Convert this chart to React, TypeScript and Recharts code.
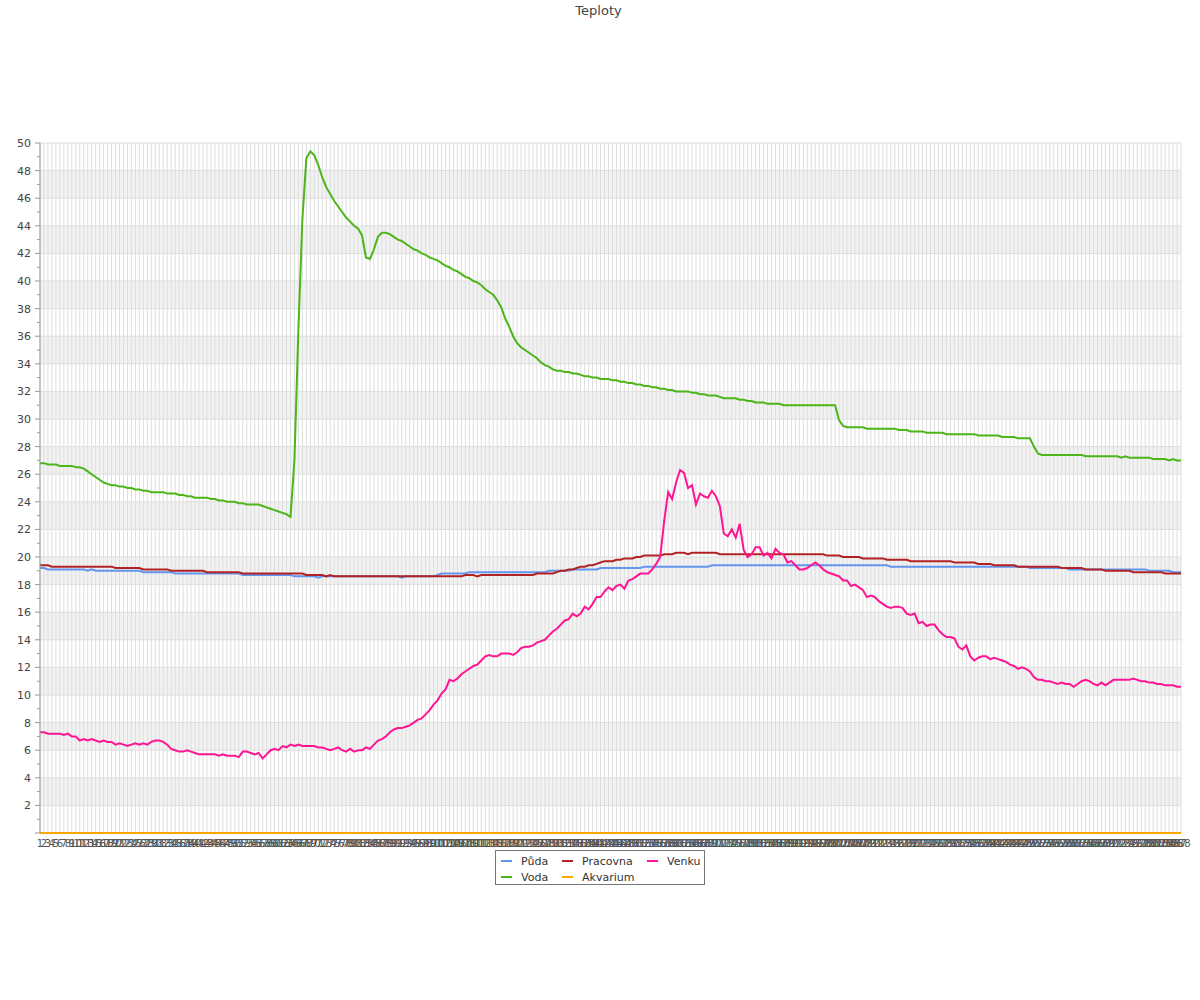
import React from 'react'
import { LineChart, Line, XAxis, YAxis, CartesianGrid } from 'recharts'

// one reading every 5 minutes, 288 per day
const labels = Array.from({ length: 288 }, (_, i) => String(i + 1))

const puda = [
  19.2, 19.2, 19.1, 19.1, 19.1, 19.1, 19.1, 19.1, 19.1, 19.1, 19.1, 19.1,
  19.0, 19.1, 19.0, 19.0, 19.0, 19.0, 19.0, 19.0, 19.0, 19.0, 19.0, 19.0,
  19.0, 19.0, 18.9, 18.9, 18.9, 18.9, 18.9, 18.9, 18.9, 18.9, 18.8, 18.8,
  18.8, 18.8, 18.8, 18.8, 18.8, 18.8, 18.8, 18.8, 18.8, 18.8, 18.8, 18.8,
  18.8, 18.8, 18.8, 18.7, 18.7, 18.7, 18.7, 18.7, 18.7, 18.7, 18.7, 18.7,
  18.7, 18.7, 18.7, 18.7, 18.6, 18.6, 18.6, 18.6, 18.6, 18.6, 18.5, 18.6,
  18.6, 18.6, 18.6, 18.6, 18.6, 18.6, 18.6, 18.6, 18.6, 18.6, 18.6, 18.6,
  18.6, 18.6, 18.6, 18.6, 18.6, 18.6, 18.6, 18.5, 18.6, 18.6, 18.6, 18.6,
  18.6, 18.6, 18.6, 18.6, 18.7, 18.8, 18.8, 18.8, 18.8, 18.8, 18.8, 18.8,
  18.9, 18.9, 18.9, 18.9, 18.9, 18.9, 18.9, 18.9, 18.9, 18.9, 18.9, 18.9,
  18.9, 18.9, 18.9, 18.9, 18.9, 18.9, 18.9, 18.9, 19.0, 19.0, 19.0, 19.0,
  19.0, 19.0, 19.1, 19.1, 19.1, 19.1, 19.1, 19.1, 19.1, 19.2, 19.2, 19.2,
  19.2, 19.2, 19.2, 19.2, 19.2, 19.2, 19.2, 19.2, 19.3, 19.3, 19.3, 19.3,
  19.3, 19.3, 19.3, 19.3, 19.3, 19.3, 19.3, 19.3, 19.3, 19.3, 19.3, 19.3,
  19.3, 19.4, 19.4, 19.4, 19.4, 19.4, 19.4, 19.4, 19.4, 19.4, 19.4, 19.4,
  19.4, 19.4, 19.4, 19.4, 19.4, 19.4, 19.4, 19.4, 19.4, 19.4, 19.4, 19.4,
  19.4, 19.4, 19.4, 19.4, 19.4, 19.4, 19.4, 19.4, 19.4, 19.4, 19.4, 19.4,
  19.4, 19.4, 19.4, 19.4, 19.4, 19.4, 19.4, 19.4, 19.4, 19.4, 19.3, 19.3,
  19.3, 19.3, 19.3, 19.3, 19.3, 19.3, 19.3, 19.3, 19.3, 19.3, 19.3, 19.3,
  19.3, 19.3, 19.3, 19.3, 19.3, 19.3, 19.3, 19.3, 19.3, 19.3, 19.3, 19.3,
  19.3, 19.3, 19.3, 19.3, 19.3, 19.3, 19.3, 19.3, 19.3, 19.2, 19.2, 19.2,
  19.2, 19.2, 19.2, 19.2, 19.2, 19.2, 19.2, 19.1, 19.1, 19.1, 19.1, 19.1,
  19.1, 19.1, 19.1, 19.1, 19.1, 19.1, 19.1, 19.1, 19.1, 19.1, 19.1, 19.1,
  19.1, 19.1, 19.1, 19.0, 19.0, 19.0, 19.0, 19.0, 19.0, 18.9, 18.9, 18.9,
]

const voda = [
  26.8, 26.8, 26.7, 26.7, 26.7, 26.6, 26.6, 26.6, 26.6, 26.5, 26.5, 26.4,
  26.2, 26.0, 25.8, 25.6, 25.4, 25.3, 25.2, 25.2, 25.1, 25.1, 25.0, 25.0,
  24.9, 24.9, 24.8, 24.8, 24.7, 24.7, 24.7, 24.7, 24.6, 24.6, 24.6, 24.5,
  24.5, 24.4, 24.4, 24.3, 24.3, 24.3, 24.3, 24.2, 24.2, 24.1, 24.1, 24.0,
  24.0, 24.0, 23.9, 23.9, 23.8, 23.8, 23.8, 23.8, 23.7, 23.6, 23.5, 23.4,
  23.3, 23.2, 23.1, 22.9, 27.0, 36.5, 44.5, 48.9, 49.4, 49.1, 48.4, 47.5,
  46.8, 46.3, 45.8, 45.4, 45.0, 44.6, 44.3, 44.0, 43.8, 43.3, 41.7, 41.6,
  42.3, 43.2, 43.5, 43.5, 43.4, 43.2, 43.0, 42.9, 42.7, 42.5, 42.3, 42.2,
  42.0, 41.9, 41.7, 41.6, 41.5, 41.3, 41.1, 41.0, 40.8, 40.7, 40.5, 40.3,
  40.2, 40.0, 39.9, 39.7, 39.4, 39.2, 39.0, 38.6, 38.1, 37.3, 36.7, 36.0,
  35.5, 35.2, 35.0, 34.8, 34.6, 34.4, 34.1, 33.9, 33.8, 33.6, 33.5, 33.5,
  33.4, 33.4, 33.3, 33.3, 33.2, 33.1, 33.1, 33.0, 33.0, 32.9, 32.9, 32.9,
  32.8, 32.8, 32.7, 32.7, 32.6, 32.6, 32.5, 32.5, 32.4, 32.4, 32.3, 32.3,
  32.2, 32.2, 32.1, 32.1, 32.0, 32.0, 32.0, 32.0, 31.9, 31.9, 31.8, 31.8,
  31.7, 31.7, 31.7, 31.6, 31.5, 31.5, 31.5, 31.5, 31.4, 31.4, 31.3, 31.3,
  31.2, 31.2, 31.2, 31.1, 31.1, 31.1, 31.1, 31.0, 31.0, 31.0, 31.0, 31.0,
  31.0, 31.0, 31.0, 31.0, 31.0, 31.0, 31.0, 31.0, 31.0, 29.9, 29.5, 29.4,
  29.4, 29.4, 29.4, 29.4, 29.3, 29.3, 29.3, 29.3, 29.3, 29.3, 29.3, 29.3,
  29.2, 29.2, 29.2, 29.1, 29.1, 29.1, 29.1, 29.0, 29.0, 29.0, 29.0, 29.0,
  28.9, 28.9, 28.9, 28.9, 28.9, 28.9, 28.9, 28.9, 28.8, 28.8, 28.8, 28.8,
  28.8, 28.8, 28.7, 28.7, 28.7, 28.7, 28.6, 28.6, 28.6, 28.6, 28.0, 27.5,
  27.4, 27.4, 27.4, 27.4, 27.4, 27.4, 27.4, 27.4, 27.4, 27.4, 27.4, 27.3,
  27.3, 27.3, 27.3, 27.3, 27.3, 27.3, 27.3, 27.3, 27.2, 27.3, 27.2, 27.2,
  27.2, 27.2, 27.2, 27.2, 27.1, 27.1, 27.1, 27.1, 27.0, 27.1, 27.0, 27.0,
]

const pracovna = [
  19.4, 19.4, 19.4, 19.3, 19.3, 19.3, 19.3, 19.3, 19.3, 19.3, 19.3, 19.3,
  19.3, 19.3, 19.3, 19.3, 19.3, 19.3, 19.3, 19.2, 19.2, 19.2, 19.2, 19.2,
  19.2, 19.2, 19.1, 19.1, 19.1, 19.1, 19.1, 19.1, 19.1, 19.0, 19.0, 19.0,
  19.0, 19.0, 19.0, 19.0, 19.0, 19.0, 18.9, 18.9, 18.9, 18.9, 18.9, 18.9,
  18.9, 18.9, 18.9, 18.8, 18.8, 18.8, 18.8, 18.8, 18.8, 18.8, 18.8, 18.8,
  18.8, 18.8, 18.8, 18.8, 18.8, 18.8, 18.8, 18.7, 18.7, 18.7, 18.7, 18.7,
  18.6, 18.7, 18.6, 18.6, 18.6, 18.6, 18.6, 18.6, 18.6, 18.6, 18.6, 18.6,
  18.6, 18.6, 18.6, 18.6, 18.6, 18.6, 18.6, 18.6, 18.6, 18.6, 18.6, 18.6,
  18.6, 18.6, 18.6, 18.6, 18.6, 18.6, 18.6, 18.6, 18.6, 18.6, 18.6, 18.7,
  18.7, 18.7, 18.6, 18.7, 18.7, 18.7, 18.7, 18.7, 18.7, 18.7, 18.7, 18.7,
  18.7, 18.7, 18.7, 18.7, 18.7, 18.8, 18.8, 18.8, 18.8, 18.8, 18.9, 19.0,
  19.0, 19.1, 19.1, 19.2, 19.3, 19.3, 19.4, 19.4, 19.5, 19.6, 19.7, 19.7,
  19.7, 19.8, 19.8, 19.9, 19.9, 19.9, 20.0, 20.0, 20.1, 20.1, 20.1, 20.1,
  20.1, 20.2, 20.2, 20.2, 20.3, 20.3, 20.3, 20.2, 20.3, 20.3, 20.3, 20.3,
  20.3, 20.3, 20.3, 20.2, 20.2, 20.2, 20.2, 20.2, 20.2, 20.2, 20.2, 20.2,
  20.2, 20.2, 20.2, 20.2, 20.2, 20.2, 20.2, 20.2, 20.2, 20.2, 20.2, 20.2,
  20.2, 20.2, 20.2, 20.2, 20.2, 20.2, 20.1, 20.1, 20.1, 20.1, 20.0, 20.0,
  20.0, 20.0, 20.0, 19.9, 19.9, 19.9, 19.9, 19.9, 19.9, 19.8, 19.8, 19.8,
  19.8, 19.8, 19.8, 19.7, 19.7, 19.7, 19.7, 19.7, 19.7, 19.7, 19.7, 19.7,
  19.7, 19.7, 19.6, 19.6, 19.6, 19.6, 19.6, 19.6, 19.5, 19.5, 19.5, 19.5,
  19.4, 19.4, 19.4, 19.4, 19.4, 19.4, 19.3, 19.3, 19.3, 19.3, 19.3, 19.3,
  19.3, 19.3, 19.3, 19.3, 19.3, 19.2, 19.2, 19.2, 19.2, 19.2, 19.2, 19.1,
  19.1, 19.1, 19.1, 19.1, 19.0, 19.0, 19.0, 19.0, 19.0, 19.0, 19.0, 18.9,
  18.9, 18.9, 18.9, 18.9, 18.9, 18.9, 18.9, 18.8, 18.8, 18.8, 18.8, 18.8,
]

const akvarium = [
  0, 0, 0, 0, 0, 0, 0, 0, 0, 0, 0, 0, 0, 0, 0, 0, 0, 0, 0, 0, 0, 0, 0, 0,
  0, 0, 0, 0, 0, 0, 0, 0, 0, 0, 0, 0, 0, 0, 0, 0, 0, 0, 0, 0, 0, 0, 0, 0,
  0, 0, 0, 0, 0, 0, 0, 0, 0, 0, 0, 0, 0, 0, 0, 0, 0, 0, 0, 0, 0, 0, 0, 0,
  0, 0, 0, 0, 0, 0, 0, 0, 0, 0, 0, 0, 0, 0, 0, 0, 0, 0, 0, 0, 0, 0, 0, 0,
  0, 0, 0, 0, 0, 0, 0, 0, 0, 0, 0, 0, 0, 0, 0, 0, 0, 0, 0, 0, 0, 0, 0, 0,
  0, 0, 0, 0, 0, 0, 0, 0, 0, 0, 0, 0, 0, 0, 0, 0, 0, 0, 0, 0, 0, 0, 0, 0,
  0, 0, 0, 0, 0, 0, 0, 0, 0, 0, 0, 0, 0, 0, 0, 0, 0, 0, 0, 0, 0, 0, 0, 0,
  0, 0, 0, 0, 0, 0, 0, 0, 0, 0, 0, 0, 0, 0, 0, 0, 0, 0, 0, 0, 0, 0, 0, 0,
  0, 0, 0, 0, 0, 0, 0, 0, 0, 0, 0, 0, 0, 0, 0, 0, 0, 0, 0, 0, 0, 0, 0, 0,
  0, 0, 0, 0, 0, 0, 0, 0, 0, 0, 0, 0, 0, 0, 0, 0, 0, 0, 0, 0, 0, 0, 0, 0,
  0, 0, 0, 0, 0, 0, 0, 0, 0, 0, 0, 0, 0, 0, 0, 0, 0, 0, 0, 0, 0, 0, 0, 0,
  0, 0, 0, 0, 0, 0, 0, 0, 0, 0, 0, 0, 0, 0, 0, 0, 0, 0, 0, 0, 0, 0, 0, 0,
]

const venku = [
  7.3, 7.3, 7.2, 7.2, 7.2, 7.2, 7.1, 7.2, 7.0, 7.0, 6.7, 6.8,
  6.7, 6.8, 6.7, 6.6, 6.7, 6.6, 6.6, 6.4, 6.5, 6.4, 6.3, 6.4,
  6.5, 6.4, 6.5, 6.4, 6.6, 6.7, 6.7, 6.6, 6.4, 6.1, 6.0, 5.9,
  5.9, 6.0, 5.9, 5.8, 5.7, 5.7, 5.7, 5.7, 5.7, 5.6, 5.7, 5.6,
  5.6, 5.6, 5.5, 5.9, 5.9, 5.8, 5.7, 5.8, 5.4, 5.7, 6.0, 6.1,
  6.0, 6.3, 6.2, 6.4, 6.3, 6.4, 6.3, 6.3, 6.3, 6.3, 6.2, 6.2,
  6.1, 6.0, 6.1, 6.2, 6.0, 5.9, 6.1, 5.9, 6.0, 6.0, 6.2, 6.1,
  6.4, 6.7, 6.8, 7.0, 7.3, 7.5, 7.6, 7.6, 7.7, 7.8, 8.0, 8.2,
  8.3, 8.6, 8.9, 9.3, 9.6, 10.1, 10.4, 11.1, 11.0, 11.2, 11.5, 11.7,
  11.9, 12.1, 12.2, 12.5, 12.8, 12.9, 12.8, 12.8, 13.0, 13.0, 13.0, 12.9,
  13.1, 13.4, 13.5, 13.5, 13.6, 13.8, 13.9, 14.0, 14.3, 14.6, 14.8, 15.1,
  15.4, 15.5, 15.9, 15.7, 15.9, 16.4, 16.2, 16.6, 17.1, 17.1, 17.5, 17.8,
  17.6, 17.9, 18.0, 17.7, 18.3, 18.4, 18.6, 18.8, 18.8, 18.8, 19.1, 19.5,
  20.0, 22.6, 24.7, 24.2, 25.4, 26.3, 26.1, 25.0, 25.2, 23.8, 24.6, 24.4,
  24.3, 24.8, 24.4, 23.7, 21.7, 21.5, 22.0, 21.4, 22.4, 20.5, 20.0, 20.2,
  20.7, 20.7, 20.1, 20.3, 19.9, 20.6, 20.3, 20.2, 19.6, 19.7, 19.4, 19.1,
  19.1, 19.2, 19.4, 19.6, 19.4, 19.1, 18.9, 18.8, 18.7, 18.6, 18.3, 18.3,
  17.9, 18.0, 17.8, 17.6, 17.1, 17.2, 17.1, 16.8, 16.6, 16.4, 16.3, 16.4,
  16.4, 16.3, 15.9, 15.8, 15.9, 15.2, 15.3, 15.0, 15.1, 15.1, 14.7, 14.4,
  14.2, 14.2, 14.1, 13.5, 13.3, 13.6, 12.8, 12.5, 12.7, 12.8, 12.8, 12.6,
  12.7, 12.6, 12.5, 12.4, 12.2, 12.1, 11.9, 12.0, 11.9, 11.7, 11.3, 11.1,
  11.1, 11.0, 11.0, 10.9, 10.8, 10.9, 10.8, 10.8, 10.6, 10.8, 11.0, 11.1,
  11.0, 10.8, 10.7, 10.9, 10.7, 10.9, 11.1, 11.1, 11.1, 11.1, 11.1, 11.2,
  11.1, 11.0, 11.0, 10.9, 10.9, 10.8, 10.8, 10.7, 10.7, 10.7, 10.6, 10.6,
]

const yTicks = [
  0, 1, 2, 3, 4, 5, 6, 7, 8, 9, 10, 11, 12, 13, 14, 15, 16, 17, 18, 19, 20,
  21, 22, 23, 24, 25, 26, 27, 28, 29, 30, 31, 32, 33, 34, 35, 36, 37, 38, 39, 40,
  41, 42, 43, 44, 45, 46, 47, 48, 49, 50,
]
const yGrid = [0, 2, 4, 6, 8, 10, 12, 14, 16, 18, 20, 22, 24, 26, 28, 30, 32, 34, 36, 38, 40, 42, 44, 46, 48, 50]

const series = [
  { key: 'puda', name: 'Půda', color: '#6495ed' },
  { key: 'voda', name: 'Voda', color: '#4cb519' },
  { key: 'pracovna', name: 'Pracovna', color: '#b22222' },
  { key: 'akvarium', name: 'Akvarium', color: '#ffa500' },
  { key: 'venku', name: 'Venku', color: '#ff1493' },
]

const data = labels.map((t, i) => ({
  t,
  puda: puda[i],
  voda: voda[i],
  pracovna: pracovna[i],
  akvarium: akvarium[i],
  venku: venku[i],
}))

const FONT = '"DejaVu Sans", sans-serif'
const AXIS_W = 40

const YTick = (props: any) => {
  const { y, payload } = props
  const v = payload.value
  const major = v % 2 === 0
  return (
    <g>
      <line x1={AXIS_W - (major ? 5 : 3)} x2={AXIS_W} y1={y} y2={y} stroke="#999" />
      {major && v > 0 && (
        <text x={AXIS_W - 9} y={y} dy={4} textAnchor="end" fontSize={11} fill="#444" fontFamily={FONT}>
          {v}
        </text>
      )}
    </g>
  )
}

// legend is laid out in rows of three, like the original
const legendOrder = ['puda', 'pracovna', 'venku', 'voda', 'akvarium']

export default function App() {
  return (
    <div style={{ position: 'absolute', left: 0, top: 0, width: 1200, height: 1000, background: '#fff', fontFamily: FONT }}>
      <div style={{ position: 'absolute', top: 3, left: 0, width: 1197, textAlign: 'center', fontSize: 13, color: '#444' }}>
        Teploty
      </div>

      <LineChart width={1200} height={900} data={data} margin={{ top: 143, right: 19, bottom: 47, left: 0 }}>
        <CartesianGrid horizontalValues={yGrid} vertical={false} stroke="none" horizontalFill={['#ffffff', '#f2f2f2']} />
        <CartesianGrid horizontalValues={yGrid} stroke="#dedede" strokeWidth={1} />
        <XAxis
          dataKey="t"
          interval={0}
          tickLine={false}
          tickSize={5}
          axisLine={false}
          tick={{ fontSize: 10, fill: '#555', fontFamily: FONT }}
          height={20}
        />
        <YAxis
          domain={[0, 50]}
          ticks={yTicks}
          interval={0}
          width={AXIS_W}
          tickLine={false}
          axisLine={{ stroke: '#999' }}
          tick={<YTick />}
        />
        {series.map((s) => (
          <Line
            key={s.key}
            dataKey={s.key}
            name={s.name}
            type="linear"
            stroke={s.color}
            strokeWidth={2}
            dot={false}
            isAnimationActive={false}
          />
        ))}
      </LineChart>

      <div
        style={{
          position: 'absolute',
          left: 495,
          top: 850,
          width: 210,
          height: 35,
          border: '1px solid #777',
          background: '#fff',
          boxSizing: 'border-box',
          display: 'grid',
          gridTemplateColumns: '61px 85px 60px',
          gridAutoRows: '16px',
          padding: '2px 0 0 5px',
          fontSize: 11,
          color: '#333',
        }}
      >
        {legendOrder.map((k) => {
          const s = series.find((x) => x.key === k)!
          return (
            <div key={k} style={{ display: 'flex', alignItems: 'center' }}>
              <span style={{ display: 'inline-block', width: 11, height: 2, background: s.color, marginRight: 9 }} />
              <span>{s.name}</span>
            </div>
          )
        })}
      </div>
    </div>
  )
}
